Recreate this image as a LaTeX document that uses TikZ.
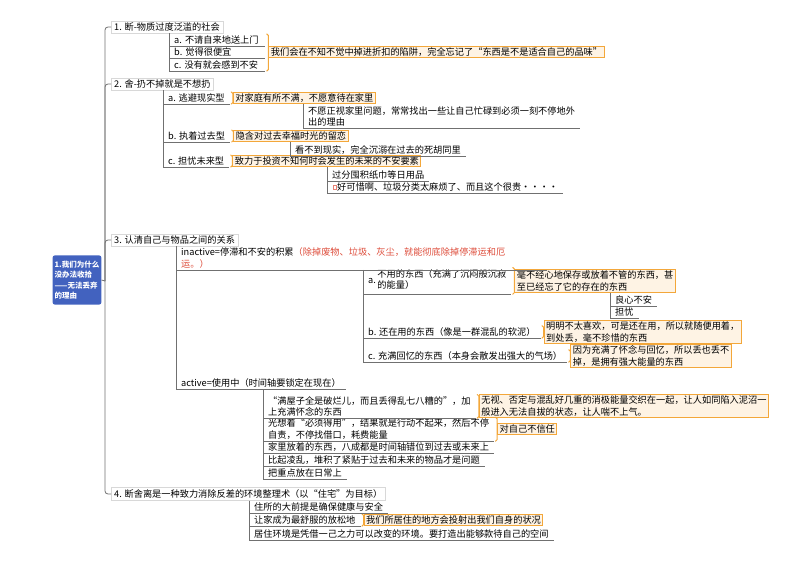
\documentclass[tikz,border=0pt]{standalone}
\usepackage{fontspec}
\newfontfamily\zh{Noto Sans CJK SC}
\usetikzlibrary{positioning, calc}
\definecolor{cline}{HTML}{707070}
\definecolor{corange}{HTML}{F3A73A}
\definecolor{ccream}{HTML}{FEF3E4}
\definecolor{cblue}{HTML}{4262BF}
\definecolor{cred}{HTML}{DD4B39}
\definecolor{cframe}{HTML}{D8D8D8}
\tikzset{
  every picture/.style={font=\zh\fontsize{9.2}{11.5}\selectfont},
  conn/.style={draw=cline, line width=0.8pt},
  topic/.style={draw=cframe, fill=white, anchor=west, inner xsep=3pt, inner ysep=2pt},
  leaf/.style={anchor=south west, align=left, inner xsep=5pt, inner ysep=1.5pt},
  note/.style={draw=corange, fill=ccream, line width=1pt, align=left, inner xsep=2pt, inner ysep=1.5pt},
  brk/.style={draw=corange, line width=1pt, rounded corners=1.5pt},
  rootbox/.style={fill=cblue, text=white, rounded corners=2pt, align=left, inner sep=2pt, font=\zh\bfseries\fontsize{7.5}{10.5}\selectfont}
}
% orange bracket from leaf (or leaf group) to its note
\newcommand{\hook}[3]{%
  \draw[brk] ([xshift=1pt]#1.north east) -- ([xshift=3pt]#1.north east) -- ([xshift=3pt]#2.south east) -- ([xshift=1pt]#2.south east);
  \draw[brk] ($(#1.north east)!.5!(#2.south east)+(3pt,0)$) -- (#3.west);
}

\begin{document}
\begin{tikzpicture}[x=1pt, y=-1pt]
  \useasboundingbox (0,0) rectangle (800,561);
  \node[rootbox, minimum width=44pt, minimum height=49pt] (root) at (77,280) {1.我们为什么\\没办法收拾\\——无法丢弃\\的理由};
  \coordinate (spine) at (105,281);
  \node[topic] (t1) at (111,27) {1. 断-物质过度泛滥的社会};
  \node[topic] (t2) at (111,84) {2. 舍-扔不掉就是不想扔};
  \node[topic] (t3) at (111,240) {3. 认清自己与物品之间的关系};
  \node[topic] (t4) at (111,494) {4. 断舍离是一种致力消除反差的环境整理术（以“住宅”为目标）};
  \draw[conn] (root.east) -- (spine);
  \foreach \t in {t1,t2,t3,t4} \draw[conn, rounded corners=3pt] (spine) |- (\t.west);

  % 1. 断
  \node[leaf, text width=86pt] (n1a) at (169,46) {a.~不请自来地送上门};
  \node[leaf, text width=86pt] (n1b) at (169,58) {b.~觉得很便宜};
  \node[leaf, text width=86pt] (n1c) at (169,71) {c.~没有就会感到不安};
  \node[note, right=3pt of n1b] (s1) {我们会在不知不觉中掉进折扣的陷阱，完全忘记了“东西是不是适合自己的品味”};
  \draw[conn] (n1a.south west |- t1.south) -- (n1c.south west);
  \hook{n1a}{n1c}{s1}

  % 2. 舍
  \node[leaf] (n2a) at (163,104) {a. 逃避现实型};
  \node[note, right=3pt of n2a] (s2a) {对家庭有所不满，不愿意待在家里};
  \node[leaf] (n2a1) at (303,128) {不愿正视家里问题，常常找出一些让自己忙碌到必须一刻不停地外\\出的理由};
  \node[leaf] (n2b) at (163,142) {b. 执着过去型};
  \node[note, right=3pt of n2b] (s2b) {隐含对过去幸福时光的留恋};
  \node[leaf] (n2b1) at (290,156) {看不到现实，完全沉溺在过去的死胡同里};
  \node[leaf] (n2c) at (163,167) {c. 担忧未来型};
  \node[note, right=3pt of n2c] (s2c) {致力于投资不知何时会发生的未来的不安要素};
  \node[leaf] (n2c1) at (327,181) {过分囤积纸巾等日用品};
  \node[leaf] (n2c2) at (327,193) {\hspace{5pt}好可惜啊、垃圾分类太麻烦了、而且这个很贵・・・・};
  \draw[draw=cred!70, line width=0.5pt] ($(n2c2.south west)+(6pt,4pt)$) rectangle ++(3.5pt,3.5pt);
  \draw[conn] (n2a.south west |- t2.south) -- (n2c.south west);
  \draw[conn] (n2a1.south west |- s2a.south) -- (n2a1.south west);
  \draw[conn] (n2b1.south west |- s2b.south) -- (n2b1.south west);
  \draw[conn] (n2c1.south west |- s2c.south) -- (n2c2.south west);
  \hook{n2a}{n2a}{s2a} \hook{n2b}{n2b}{s2b} \hook{n2c}{n2c}{s2c}

  % 3. 认清关系
  \node[leaf, text width=361pt] (n3i) at (176,270) {inactive=停滞和不安的积累\textcolor{cred}{（除掉废物、垃圾、灰尘，就能彻底除掉停滞运和厄\\运。）}};
  \node[leaf] (n3a) at (363,294) {a.\,\begin{tabular}[c]{@{}l@{}}不用的东西（充满了沉闷般沉寂\\的能量）\end{tabular}};
  \node[note, right=3pt of n3a] (s3a) {毫不经心地保存或放着不管的东西，甚\\至已经忘了它的存在的东西};
  \node[leaf] (n3a1) at (610,306) {良心不安};
  \node[leaf] (n3a2) at (610,318) {担忧};
  \node[leaf] (n3b) at (363,338) {b. 还在用的东西（像是一群混乱的软泥）};
  \node[note, right=3pt of n3b] (s3b) {明明不太喜欢，可是还在用，所以就随便用着，\\到处丢，毫不珍惜的东西};
  \node[leaf] (n3c) at (363,362) {c. 充满回忆的东西（本身会散发出强大的气场）};
  \node[note, right=3pt of n3c] (s3c) {因为充满了怀念与回忆，所以丢也丢不\\掉，是拥有强大能量的东西};
  \node[leaf] (n3act) at (176,389) {active=使用中（时间轴要锁定在现在）};
  \node[leaf] (n3d) at (263,418) {“满屋子全是破烂儿，而且丢得乱七八糟的”，加\\上充满怀念的东西};
  \node[note, right=3pt of n3d] (s3d) {无视、否定与混乱好几重的消极能量交织在一起，让人如同陷入泥沼一\\般进入无法自拔的状态，让人喘不上气。};
  \node[leaf] (n3e) at (263,441) {光想着“必须得用”，结果就是行动不起来，然后不停\\自责，不停找借口，耗费能量};
  \node[note, right=3pt of n3e] (s3e) {对自己不信任};
  \node[leaf] (n3f) at (263,453) {家里放着的东西，八成都是时间轴错位到过去或未来上};
  \node[leaf] (n3g) at (263,466) {比起凌乱，堆积了紧贴于过去和未来的物品才是问题};
  \node[leaf] (n3h) at (263,479) {把重点放在日常上};
  \draw[conn] (n3i.south west |- t3.south) -- (n3act.south west);
  \draw[conn] (n3a.south west |- n3i.south) -- (n3c.south west);
  \draw[conn] (n3a1.south west |- s3a.south) -- (n3a2.south west);
  \draw[conn] (n3d.south west |- n3act.south) -- (n3h.south west);
  \hook{n3a}{n3a}{s3a} \hook{n3b}{n3b}{s3b} \hook{n3c}{n3c}{s3c}
  \hook{n3d}{n3d}{s3d} \hook{n3e}{n3e}{s3e}

  % 4. 离
  \node[leaf] (n4a) at (249,513) {住所的大前提是确保健康与安全};
  \node[leaf] (n4b) at (249,526) {让家成为最舒服的放松地};
  \node[note, right=3pt of n4b] (s4b) {我们所居住的地方会投射出我们自身的状况};
  \node[leaf] (n4c) at (249,540) {居住环境是凭借一己之力可以改变的环境。要打造出能够款待自己的空间};
  \draw[conn] (n4a.south west |- t4.south) -- (n4c.south west);
  \hook{n4b}{n4b}{s4b}

  \foreach \n in {n1a,n1b,n1c,n2a,n2a1,n2b,n2b1,n2c,n2c1,n2c2,n3i,n3a,n3a1,n3a2,n3b,n3c,n3act,n3d,n3e,n3f,n3g,n3h,n4a,n4b,n4c}
    \draw[conn] (\n.south west) -- (\n.south east);
\end{tikzpicture}
\end{document}
